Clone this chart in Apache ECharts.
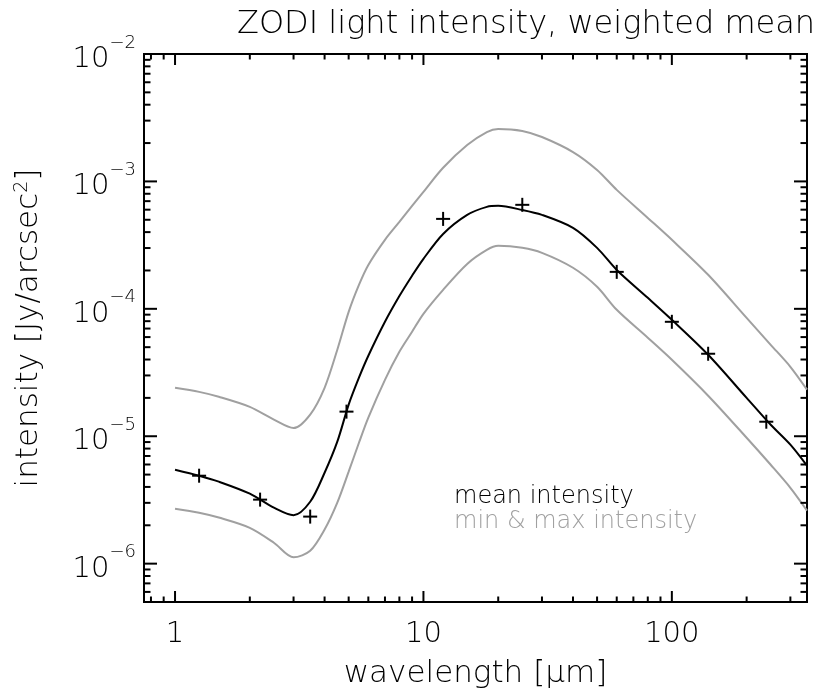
<!DOCTYPE html>
<html>
<head>
<meta charset="utf-8">
<script src="https://cdn.jsdelivr.net/npm/echarts@6/dist/echarts.min.js"></script>
<style>
html,body{margin:0;padding:0;background:#fff}
#main{width:823px;height:694px}
</style>
</head>
<body>
<div id="main"></div>
<script>
// curves sampled along wavelength (micron)
var wavelength = [1, 1.25, 1.5, 2, 2.5, 3, 3.5, 4, 4.5, 5, 5.5, 6, 7, 8, 9, 10, 12, 15, 18, 20, 25, 30, 40, 50, 60, 80, 100, 140, 200, 250, 300, 350];
var meanIntensity = [5.46e-6, 4.90e-6, 4.40e-6, 3.54e-6, 2.75e-6, 2.40e-6, 3.06e-6, 5.17e-6, 9.06e-6, 1.77e-5, 2.88e-5, 4.28e-5, 7.91e-5, 1.26e-4, 1.82e-4, 2.47e-4, 3.87e-4, 5.46e-4, 6.31e-4, 6.43e-4, 5.97e-4, 5.46e-4, 4.32e-4, 3.01e-4, 2.02e-4, 1.22e-4, 8.20e-5, 4.36e-5, 2.00e-5, 1.23e-5, 8.58e-6, 5.87e-6];
var maxIntensity = [2.40e-5, 2.23e-5, 2.04e-5, 1.70e-5, 1.35e-5, 1.16e-5, 1.48e-5, 2.40e-5, 4.77e-5, 9.46e-5, 1.54e-4, 2.21e-4, 3.48e-4, 4.81e-4, 6.43e-4, 8.28e-4, 1.28e-3, 1.93e-3, 2.44e-3, 2.58e-3, 2.49e-3, 2.23e-3, 1.70e-3, 1.23e-3, 8.58e-4, 5.17e-4, 3.48e-4, 1.85e-4, 8.49e-5, 5.22e-5, 3.51e-5, 2.32e-5];
var minIntensity = [2.70e-6, 2.51e-6, 2.30e-6, 1.91e-6, 1.46e-6, 1.12e-6, 1.26e-6, 1.85e-6, 3.01e-6, 5.27e-6, 8.89e-6, 1.40e-5, 2.77e-5, 4.60e-5, 6.61e-5, 9.14e-5, 1.41e-4, 2.25e-4, 2.90e-4, 3.12e-4, 3.01e-4, 2.75e-4, 2.10e-4, 1.49e-4, 9.82e-5, 5.93e-5, 3.98e-5, 2.08e-5, 9.73e-6, 5.97e-6, 3.94e-6, 2.61e-6];

// DIRBE band points (+)
var bandWavelength = [1.25, 2.2, 3.5, 4.9, 12, 25, 60, 100, 140, 240];
var bandIntensity = [4.90e-6, 3.18e-6, 2.34e-6, 1.56e-5, 5.08e-4, 6.55e-4, 1.95e-4, 7.91e-5, 4.44e-5, 1.30e-5];

var xRange = [0.75, 350];
var yRange = [5e-7, 1e-2];

var FONT = '"DejaVu Sans", "Liberation Sans", sans-serif';
var GRAY = '#a0a0a0';

function pairs(xs, ys) {
	return xs.map(function (x, i) { return [x, ys[i]]; });
}

function isDecade(v) {
	var l = Math.log10(v);
	return Math.abs(l - Math.round(l)) < 1e-6;
}

// 1..9 x 10^k inside the range, flag 1 for decades
function logTicks(lo, hi) {
	var out = [];
	for (var k = Math.floor(Math.log10(lo)); k <= Math.ceil(Math.log10(hi)); k++) {
		for (var m = 1; m <= 9; m++) {
			var v = Number((m * Math.pow(10, k)).toPrecision(3));
			if (v >= lo && v <= hi) out.push([v, m === 1 ? 1 : 0]);
		}
	}
	return out;
}

var xTicks = logTicks(xRange[0], xRange[1]).map(function (t) { return [t[0], yRange[0], t[1]]; });
var yTicks = logTicks(yRange[0], yRange[1]).map(function (t) { return [xRange[0], t[0], t[1]]; });

function tickLine(x1, y1, x2, y2) {
	return { type: 'line', shape: { x1: x1, y1: y1, x2: x2, y2: y2 }, style: { stroke: '#000', lineWidth: 2 } };
}

function curve(name, data, color, z) {
	return {
		name: name, type: 'line', smooth: 0.3, showSymbol: false, z: z,
		lineStyle: { color: color, width: 2 }, itemStyle: { color: color },
		data: data
	};
}

var chart = echarts.init(document.getElementById('main'));

var option = {
	animation: false,
	backgroundColor: '#fff',
	title: {
		text: 'ZODI light intensity, weighted mean',
		left: 232, top: 4,
		textStyle: { fontFamily: FONT, fontSize: 32, fontWeight: 200, color: '#000' }
	},
	legend: {
		orient: 'vertical',
		left: 444, top: 480,
		itemWidth: 0, itemHeight: 0, itemGap: 1,
		icon: 'none',
		selectedMode: false,
		textStyle: { fontFamily: FONT, fontSize: 24, fontWeight: 200 },
		data: [
			{ name: 'mean intensity', textStyle: { color: '#000' } },
			{ name: 'min & max intensity', textStyle: { color: GRAY } }
		]
	},
	grid: {
		left: 144, right: 16, top: 54, bottom: 92,
		show: true, borderColor: '#000', borderWidth: 2
	},
	xAxis: {
		type: 'log', logBase: 10,
		min: xRange[0], max: xRange[1],
		name: 'wavelength [\u03bcm]',
		nameLocation: 'middle', nameGap: 56,
		nameTextStyle: { fontFamily: FONT, fontSize: 31, fontWeight: 200, color: '#000' },
		axisLine: { show: false },
		axisTick: { show: false },
		splitLine: { show: false },
		axisLabel: {
			margin: 18, color: '#000',
			fontFamily: FONT, fontSize: 29, fontWeight: 200,
			formatter: function (v) { return isDecade(v) ? String(Math.round(v)) : ''; }
		}
	},
	yAxis: {
		type: 'log', logBase: 10,
		min: yRange[0], max: yRange[1],
		name: 'intensity [Jy/arcsec{s|2}]',
		nameLocation: 'middle', nameGap: 100,
		nameTextStyle: {
			fontFamily: FONT, fontSize: 31, fontWeight: 200, color: '#000',
			rich: { s: { fontFamily: FONT, fontSize: 19, fontWeight: 200, verticalAlign: 'top', lineHeight: 18 } }
		},
		axisLine: { show: false },
		axisTick: { show: false },
		splitLine: { show: false },
		axisLabel: {
			margin: 8, color: '#000',
			formatter: function (v) {
				if (!isDecade(v)) return '';
				var e = Math.round(Math.log10(v));
				return '{b|10}{e|' + (e < 0 ? '\u2212' : '') + Math.abs(e) + '}';
			},
			rich: {
				b: { fontFamily: FONT, fontSize: 29, fontWeight: 200, lineHeight: 40, verticalAlign: 'bottom' },
				e: { fontFamily: FONT, fontSize: 18, fontWeight: 200, lineHeight: 18, verticalAlign: 'top' }
			}
		}
	},
	series: [
		curve('min & max intensity', pairs(wavelength, maxIntensity), GRAY, 2),
		curve('min & max intensity', pairs(wavelength, minIntensity), GRAY, 2),
		curve('mean intensity', pairs(wavelength, meanIntensity), '#000', 3),
		{
			name: 'bands', type: 'custom', z: 4,
			data: pairs(bandWavelength, bandIntensity),
			renderItem: function (params, api) {
				var p = api.coord([api.value(0), api.value(1)]);
				var h = 7;
				return { type: 'group', children: [
					tickLine(p[0] - h, p[1], p[0] + h, p[1]),
					tickLine(p[0], p[1] - h, p[0], p[1] + h)
				] };
			}
		},
		{
			name: 'xticks', type: 'custom', z: 5, silent: true,
			encode: { x: 0, y: 1 },
			data: xTicks,
			renderItem: function (params, api) {
				var v = api.value(0);
				var len = api.value(2) ? 11 : 5.5;
				var b = api.coord([v, yRange[0]]);
				var t = api.coord([v, yRange[1]]);
				return { type: 'group', children: [
					tickLine(b[0], b[1], b[0], b[1] - len),
					tickLine(t[0], t[1], t[0], t[1] + len)
				] };
			}
		},
		{
			name: 'yticks', type: 'custom', z: 5, silent: true,
			encode: { x: 0, y: 1 },
			data: yTicks,
			renderItem: function (params, api) {
				var v = api.value(1);
				var len = api.value(2) ? 13 : 6.5;
				var l = api.coord([xRange[0], v]);
				var r = api.coord([xRange[1], v]);
				return { type: 'group', children: [
					tickLine(l[0], l[1], l[0] + len, l[1]),
					tickLine(r[0], r[1], r[0] - len, r[1])
				] };
			}
		}
	]
};

chart.setOption(option);
</script>
</body>
</html>
